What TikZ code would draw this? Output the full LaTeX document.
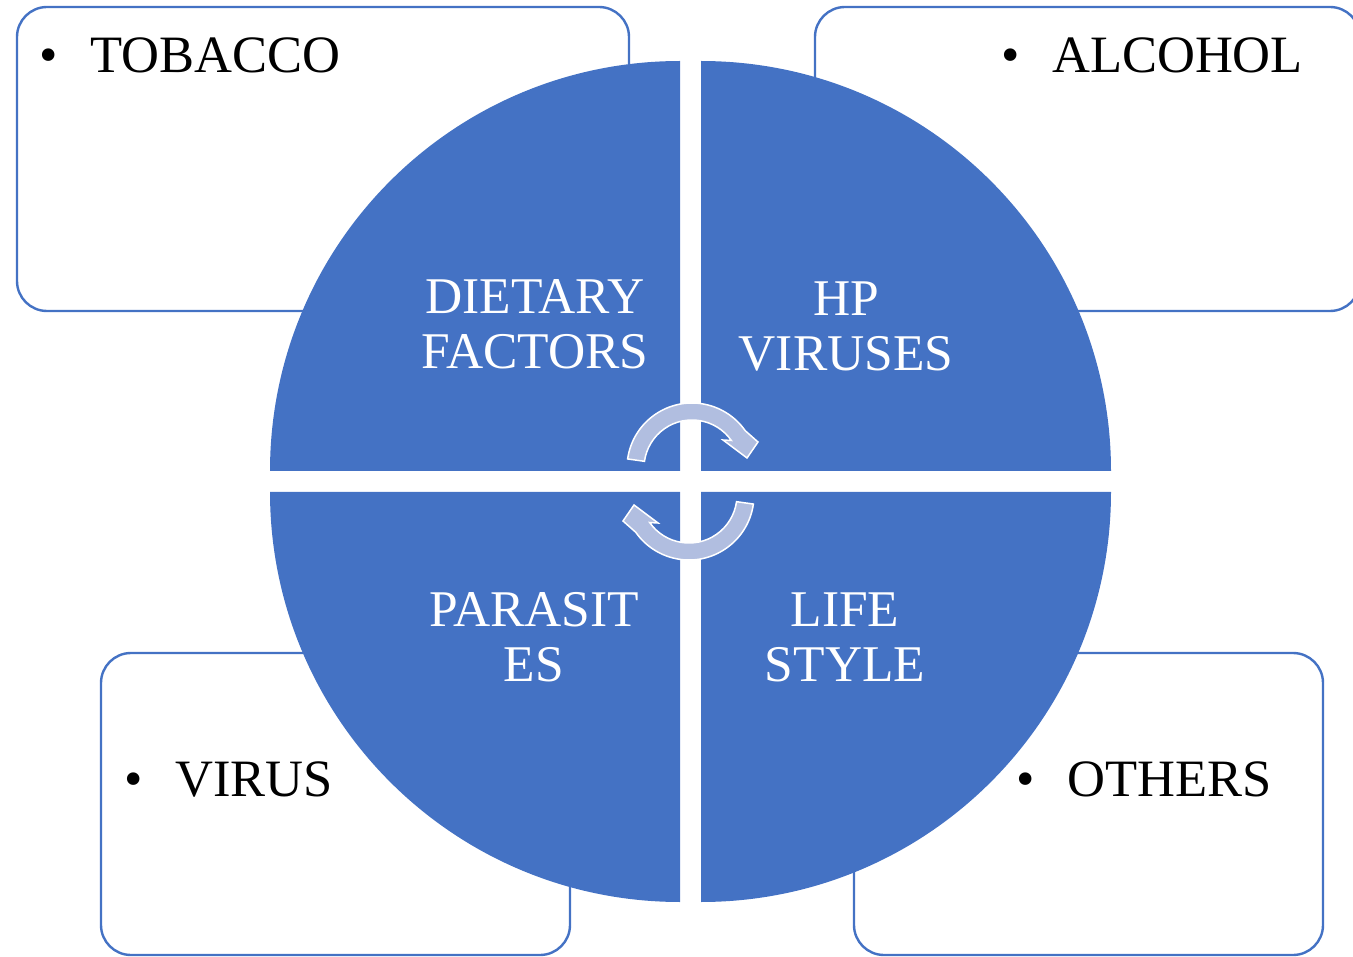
\documentclass[tikz,border=0pt]{standalone}
\usepackage{fontspec}
\setmainfont{Liberation Serif}
\definecolor{qblue}{HTML}{4472C4}
\definecolor{cyclefill}{RGB}{177,190,224}
% bullet hung to the left of the word, centred 41.5pt before it
\newcommand{\hangbullet}{\llap{\hbox to 0pt{\hss•\hss}\hspace{41.5pt}}}
% one curved arrow turning clockwise over the top of centre (692,468)
\newcommand{\cyclearrowpath}{%
  \path[cyclearrow] ([shift={(188:65)}]692,468) arc[start angle=188, end angle=325, radius=65]
    -- (758,442) -- (747,458) -- (723,440)
    -- ([shift={(325:48)}]692,468) arc[start angle=325, end angle=188, radius=48] -- cycle;}
\begin{document}
\begin{tikzpicture}[x=1pt,y=-1pt,
  sidebox/.style={draw=qblue, line width=2.4pt, fill=white, rounded corners=30pt, inner sep=0pt},
  quad/.style={fill=qblue},
  bullettext/.style={anchor=base west, inner sep=0pt, text=black, font=\fontsize{52.5}{60}\selectfont},
  quadlabel/.style={anchor=base, inner sep=0pt, align=center, text=white, font=\fontsize{51.5}{55}\selectfont},
  cyclearrow/.style={fill=cyclefill, draw=white, line width=1.5pt, line join=miter}]
\useasboundingbox (0,0) rectangle (1353,957);
\clip (0,0) rectangle (1353,957);

% side boxes behind the circle
\node[sidebox, minimum width=612pt, minimum height=304pt] (boxTL) at (323,159) {};
\node[sidebox, minimum width=545pt, minimum height=304pt] (boxTR) at (1087.5,159) {};
\node[sidebox, minimum width=469pt, minimum height=302pt] (boxBL) at (335.5,804) {};
\node[sidebox, minimum width=469pt, minimum height=302pt] (boxBR) at (1088.5,804) {};

\node[bullettext] (tobacco) at (90,73) {\hangbullet TOBACCO};
\node[bullettext] (alcohol) at (1052,73) {\hangbullet ALCOHOL};
\node[bullettext] (virus) at (175,796) {\hangbullet VIRUS};
\node[bullettext] (others) at (1067,796) {\hangbullet OTHERS};

% four quarters of the circle, pulled apart
\fill[quad] (680,471) -- ++(180:410) arc[start angle=180, end angle=270, radius=410] -- cycle;
\fill[quad] (701,471) -- ++(270:410) arc[start angle=270, end angle=360, radius=410] -- cycle;
\fill[quad] (701,492) -- ++(0:410) arc[start angle=0, end angle=90, radius=410] -- cycle;
\fill[quad] (680,492) -- ++(90:410) arc[start angle=90, end angle=180, radius=410] -- cycle;

% labels: anchor sits on the baseline of the second line
\node[quadlabel] (dietary) at (535,369) {DIETARY\\FACTORS};
\node[quadlabel] (hpv) at (846,371) {HP\\VIRUSES};
\node[quadlabel] (parasites) at (534,681) {PARASIT\\ES};
\node[quadlabel] (lifestyle) at (845,681) {LIFE\\STYLE};

% curved cycle arrows in the middle
\cyclearrowpath
\begin{scope}[rotate around={180:(690.5,481.5)}]
\cyclearrowpath
\end{scope}
\end{tikzpicture}
\end{document}
